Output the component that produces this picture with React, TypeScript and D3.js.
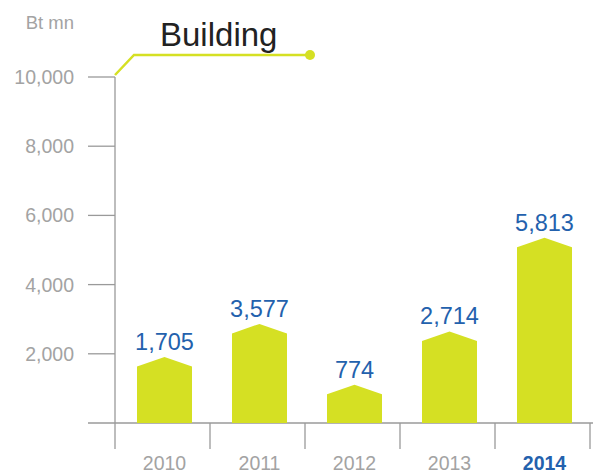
import React from 'react'
import * as d3 from 'd3'

const years = ['2010', '2011', '2012', '2013', '2014']
const values = [1705, 3577, 774, 2714, 5813]
// bar shoulder levels as drawn in the picture (the bars are not drawn to scale)
const barLevels = [1630, 2590, 830, 2370, 5080]
const yTicks = [2000, 4000, 6000, 8000, 10000]
const highlightYear = '2014'

const W = 593
const H = 475
const GREEN = '#d5e023'
const BLUE = '#2361ad'
const GREY = '#a3a3a3'
const AXIS = '#9a9a9a'
const FONT = '"Liberation Sans", Arial, Helvetica, sans-serif'

export default function App() {
  const x = d3.scaleBand<string>().domain(years).range([115, 590]).padding(0)
  const y = d3.scaleLinear().domain([0, 10000]).range([423, 77])
  const fmt = d3.format(',')
  const barW = 55
  const peak = 9.5
  const bw = x.bandwidth()

  return (
    <svg width={W} height={H} style={{ position: 'absolute', left: 0, top: 0, background: '#fff' }}>
      {/* unit label */}
      <text x={74} y={29} textAnchor="end" fontFamily={FONT} fontSize={18.5} fill={GREY}>Bt mn</text>

      {/* title with marker line */}
      <text x={160} y={46} fontFamily={FONT} fontSize={33} fill="#222">Building</text>
      <path d={`M115,75 L134,55 L310,55`} fill="none" stroke={GREEN} strokeWidth={2.5} />
      <circle cx={310} cy={55} r={5} fill={GREEN} />

      {/* y axis */}
      <line x1={115} x2={115} y1={y(10000)} y2={449} stroke={AXIS} strokeWidth={1.3} />
      {yTicks.map(t => (
        <g key={t}>
          <line x1={88} x2={115} y1={y(t)} y2={y(t)} stroke={AXIS} strokeWidth={1.3} />
          <text x={74} y={y(t)} dy="0.36em" textAnchor="end" fontFamily={FONT} fontSize={19.5} fill={GREY}>{fmt(t)}</text>
        </g>
      ))}

      {/* x axis */}
      <line x1={88} x2={593} y1={y(0)} y2={y(0)} stroke={AXIS} strokeWidth={1.3} />
      {years.map(yr => (
        <line key={'s' + yr} x1={(x(yr) ?? 0) + bw} x2={(x(yr) ?? 0) + bw} y1={y(0)} y2={449} stroke={AXIS} strokeWidth={1.3} />
      ))}
      {years.map(yr => (
        <text key={'l' + yr} x={(x(yr) ?? 0) + bw / 2 + 2} y={470} textAnchor="middle" fontFamily={FONT} fontSize={19.5}
          fontWeight={yr === highlightYear ? 'bold' : 'normal'} fill={yr === highlightYear ? BLUE : GREY}>{yr}</text>
      ))}

      {/* bars */}
      {years.map((yr, i) => {
        const x0 = (x(yr) ?? 0) + (bw - barW) / 2 + 2
        const x1 = x0 + barW
        const top = y(barLevels[i])
        const d = `M${x0},${y(0)} L${x0},${top} L${(x0 + x1) / 2},${top - peak} L${x1},${top} L${x1},${y(0)} Z`
        return (
          <g key={yr}>
            <path d={d} fill={GREEN} />
            <text x={(x0 + x1) / 2} y={top - peak - 7} textAnchor="middle" fontFamily={FONT} fontSize={23.5} fill={BLUE}>{fmt(values[i])}</text>
          </g>
        )
      })}
    </svg>
  )
}
